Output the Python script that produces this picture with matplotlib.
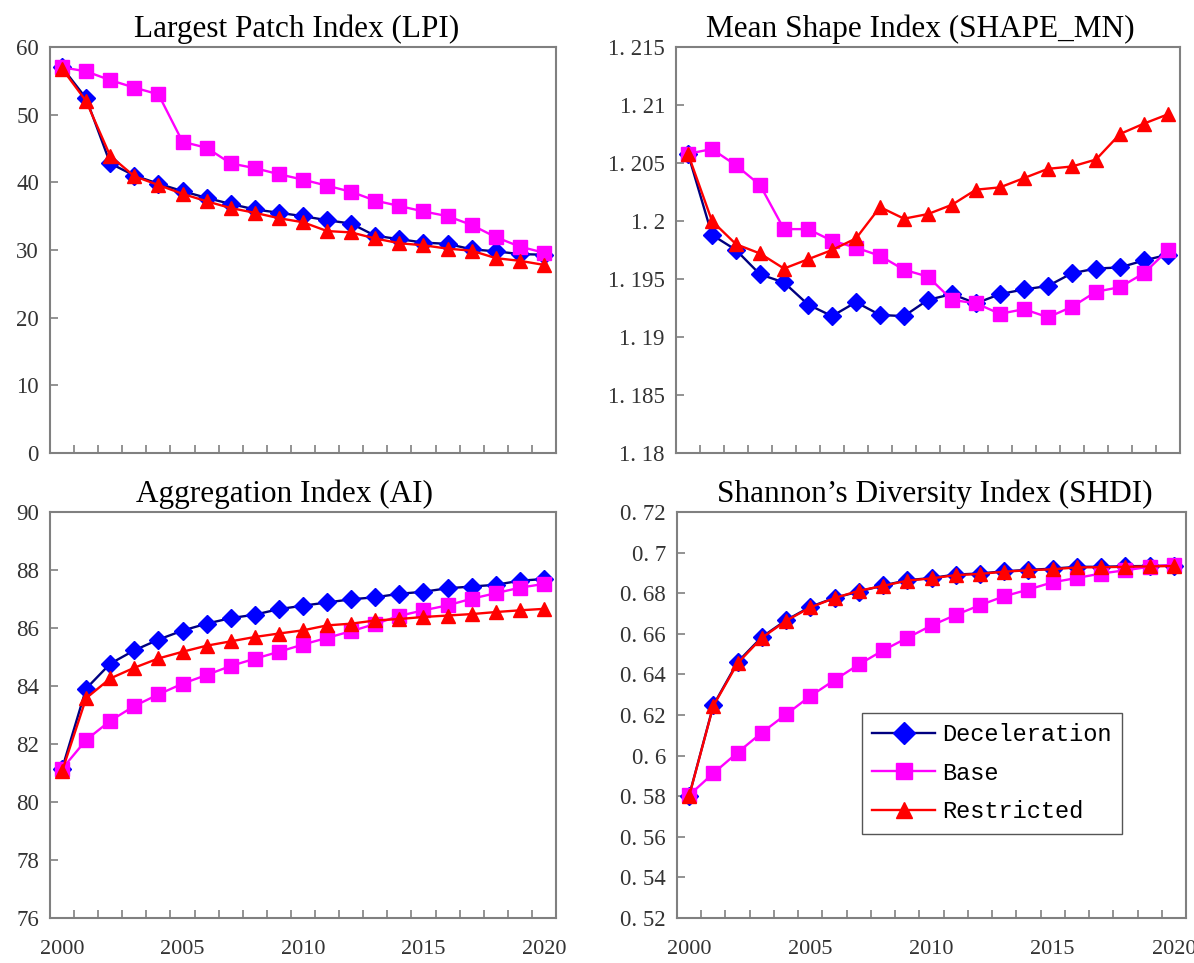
import matplotlib
matplotlib.use("Agg")
import matplotlib.pyplot as plt
from matplotlib.ticker import FixedLocator, FuncFormatter, NullFormatter

years = list(range(2000, 2021))
labels = ["Deceleration", "Base", "Restricted"]

# Largest Patch Index
lpi_dec = [57.0, 52.4, 42.8, 41.0, 39.8, 38.7, 37.7, 36.8, 36.0, 35.5, 35.0,
           34.4, 33.9, 32.1, 31.6, 31.1, 30.9, 30.1, 29.8, 29.4, 29.3]
lpi_base = [57.0, 56.4, 55.1, 54.0, 53.0, 46.0, 45.1, 42.8, 42.1, 41.2, 40.4,
            39.5, 38.6, 37.3, 36.5, 35.7, 35.0, 33.7, 31.9, 30.5, 29.6]
lpi_res = [56.8, 52.0, 43.9, 40.9, 39.6, 38.3, 37.2, 36.2, 35.5, 34.7, 34.1,
           32.8, 32.6, 31.7, 31.0, 30.7, 30.2, 29.9, 28.8, 28.4, 27.8]

# Mean Shape Index
shape_dec = [1.2058, 1.1988, 1.1975, 1.1954, 1.1947, 1.1928, 1.1918, 1.1930, 1.1919, 1.1918, 1.1932,
             1.1937, 1.1929, 1.1937, 1.1941, 1.1944, 1.1955, 1.1959, 1.1960, 1.1966, 1.1971]
shape_base = [1.2058, 1.2062, 1.2048, 1.2031, 1.1993, 1.1993, 1.1983, 1.1977, 1.1970, 1.1958, 1.1952,
              1.1932, 1.1929, 1.1920, 1.1924, 1.1917, 1.1926, 1.1939, 1.1943, 1.1955, 1.1975]
shape_res = [1.2058, 1.2000, 1.1980, 1.1972, 1.1959, 1.1967, 1.1975, 1.1985, 1.2012, 1.2002, 1.2006,
             1.2014, 1.2027, 1.2029, 1.2037, 1.2045, 1.2047, 1.2053, 1.2075, 1.2084, 1.2092]

# Aggregation Index
ai_dec = [81.14, 83.91, 84.77, 85.23, 85.60, 85.91, 86.15, 86.34, 86.46, 86.65, 86.77,
          86.88, 86.99, 87.06, 87.18, 87.25, 87.37, 87.43, 87.49, 87.63, 87.69]
ai_base = [81.14, 82.14, 82.80, 83.31, 83.71, 84.08, 84.38, 84.69, 84.94, 85.18, 85.43,
           85.66, 85.89, 86.14, 86.42, 86.61, 86.78, 87.01, 87.20, 87.39, 87.52]
ai_res = [81.06, 83.58, 84.26, 84.63, 84.95, 85.18, 85.39, 85.54, 85.69, 85.81, 85.92,
          86.09, 86.15, 86.26, 86.31, 86.38, 86.43, 86.48, 86.55, 86.61, 86.66]

# Shannon's Diversity Index
shdi_dec = [0.5802, 0.6248, 0.6461, 0.6584, 0.6667, 0.6733, 0.6777, 0.6808, 0.6838, 0.6864, 0.6875,
            0.6892, 0.6897, 0.6908, 0.6915, 0.6921, 0.6930, 0.6930, 0.6933, 0.6934, 0.6936]
shdi_base = [0.5805, 0.5913, 0.6015, 0.6113, 0.6203, 0.6293, 0.6372, 0.6449, 0.6518, 0.6580, 0.6641,
             0.6693, 0.6741, 0.6785, 0.6818, 0.6854, 0.6875, 0.6897, 0.6913, 0.6930, 0.6941]
shdi_res = [0.5800, 0.6245, 0.6455, 0.6580, 0.6664, 0.6730, 0.6776, 0.6812, 0.6836, 0.6862, 0.6873,
            0.6889, 0.6895, 0.6906, 0.6913, 0.6918, 0.6927, 0.6928, 0.6930, 0.6932, 0.6934]

panels = [
    ("Largest Patch Index (LPI)", [lpi_dec, lpi_base, lpi_res], (0, 60), 10, False, 0.487),
    ("Mean Shape Index (SHAPE_MN)", [shape_dec, shape_base, shape_res], (1.18, 1.215), 0.005, False, 0.484),
    ("Aggregation Index (AI)", [ai_dec, ai_base, ai_res], (76, 90), 2, True, 0.464),
    ("Shannon\u2019s Diversity Index (SHDI)", [shdi_dec, shdi_base, shdi_res], (0.52, 0.72), 0.02, True, 0.507),
]

styles = [
    dict(color="#000080", marker="D", markerfacecolor="#0000FF", markeredgecolor="#0000FF", markersize=9.5),
    dict(color="#FF00FF", marker="s", markerfacecolor="#FF00FF", markeredgecolor="#FF00FF", markersize=9.5),
    dict(color="#FF0000", marker="^", markerfacecolor="#FF0000", markeredgecolor="#FF0000", markersize=10.5),
]

boxes = [
    [50 / 1194, 1 - 453 / 963, 506 / 1194, 406 / 963],
    [676 / 1194, 1 - 453 / 963, 504 / 1194, 406 / 963],
    [50 / 1194, 1 - 918 / 963, 506 / 1194, 406 / 963],
    [677 / 1194, 1 - 918 / 963, 509 / 1194, 406 / 963],
]


def dec_fmt(v, pos):
    s = "{:g}".format(round(v, 4))
    return s.replace(".", ". ")


fig = plt.figure(figsize=(11.94, 9.63), dpi=100)

for i, (title, series, ylim, step, show_years, tx) in enumerate(panels):
    ax = fig.add_axes(boxes[i])
    for vals, lab, st in zip(series, labels, styles):
        ax.plot(years, vals, label=lab, linewidth=1.7, **st)
    ax.set_xlim(1999.5, 2020.5)
    ax.set_ylim(*ylim)
    n = int(round((ylim[1] - ylim[0]) / step))
    ax.yaxis.set_major_locator(FixedLocator([ylim[0] + k * step for k in range(n + 1)]))
    ax.yaxis.set_major_formatter(FuncFormatter(dec_fmt))
    ax.xaxis.set_minor_locator(FixedLocator([1999.5 + k for k in range(1, 21)]))
    ax.xaxis.set_major_locator(FixedLocator([2000, 2005, 2010, 2015, 2020]))
    if not show_years:
        ax.xaxis.set_major_formatter(NullFormatter())
    ax.tick_params(axis="x", which="major", length=0, pad=16, labelsize=16, colors="#333333")
    ax.tick_params(axis="x", which="minor", direction="in", length=6, width=1.2, color="#808080")
    ax.tick_params(axis="y", direction="in", length=6, width=1.2, color="#808080",
                   labelcolor="#333333", labelsize=16.5, pad=8)
    for lab in ax.get_xticklabels() + ax.get_yticklabels():
        lab.set_family("Liberation Serif")
    for sp in ax.spines.values():
        sp.set_color("#808080")
        sp.set_linewidth(1.5)
    ax.set_title(title, family="Liberation Serif", fontsize=22.5, pad=7, x=tx)
    if i == 3:
        ax.legend(loc="lower left", bbox_to_anchor=(0.363, 0.207), borderaxespad=0,
                  frameon=True, fancybox=False, edgecolor="#555555", framealpha=1,
                  prop={"family": "Liberation Mono", "size": 17},
                  handlelength=2.65, handletextpad=0.3, labelspacing=0.66,
                  borderpad=0.45, markerscale=1.15)

fig.savefig("out.png", dpi=100)
